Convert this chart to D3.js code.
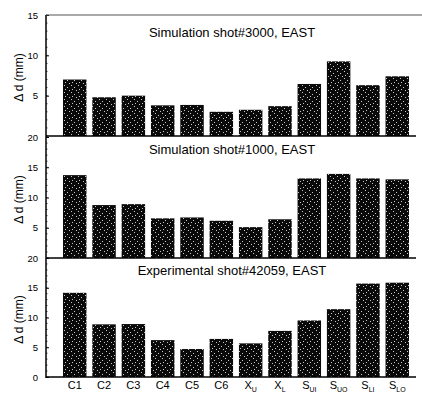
<!DOCTYPE html>
<html><head><meta charset="utf-8">
<script src="https://cdn.jsdelivr.net/npm/d3@7/dist/d3.min.js"></script>
<style>body{margin:0;background:#fff}svg{display:block}</style>
</head><body>
<svg id="c" width="422" height="394"></svg>
<script>
const categories = ["C1","C2","C3","C4","C5","C6","X_U","X_L","S_UI","S_UO","S_LI","S_LO"];
const sim3000 = [7.0,4.8,5.0,3.8,3.85,3.0,3.25,3.7,6.45,9.25,6.3,7.4];
const sim1000 = [13.7,8.75,8.9,6.55,6.7,6.15,5.1,6.4,13.15,13.9,13.15,13.0];
const exp42059 = [14.15,8.85,8.9,6.2,4.7,6.4,5.65,7.75,9.5,11.4,15.7,15.85];
const titles = ["Simulation shot#3000, EAST","Simulation shot#1000, EAST","Experimental shot#42059, EAST"];
const yMax = [15,20,20];
const yTicks = [[5,10,15],[5,10,15,20],[0,5,10,15,20]];

const svg = d3.select("#c");
const defs = svg.append("defs");
const pat = defs.append("pattern").attr("id","stip").attr("patternUnits","userSpaceOnUse")
  .attr("width",7).attr("height",7);
pat.append("rect").attr("width",7).attr("height",7).attr("fill","#0a0a0a");
[[1,1],[4,3],[2,5],[6,6]].forEach(([px,py])=>pat.append("rect").attr("x",px).attr("y",py).attr("width",1).attr("height",1).attr("fill","#c8c8c8"));

const x = d3.scaleBand().domain(categories).range([63,409]).paddingInner(0.2).paddingOuter(0);
const panels = [
  {data:sim3000, top:15, bottom:136},
  {data:sim1000, top:137, bottom:258},
  {data:exp42059, top:258, bottom:377}
];
const left = 46;
const font = "Liberation Sans, Arial, sans-serif";
panels.forEach((p,i)=>{
  const y = d3.scaleLinear().domain([0,yMax[i]]).range([p.bottom,p.top]);
  const g = svg.append("g");
  g.selectAll("rect.bar").data(p.data).join("rect").attr("class","bar")
    .attr("x",(d,j)=>x(categories[j])).attr("width",x.bandwidth())
    .attr("y",d=>y(d)).attr("height",d=>y(0)-y(d)).attr("fill","url(#stip)");
  const ax = g.append("g").attr("transform",`translate(${left},0)`)
    .call(d3.axisLeft(y).tickValues(yTicks[i]).tickSize(-3).tickPadding(8).tickFormat(d3.format("d")));
  ax.select(".domain").remove();
  ax.selectAll("line").attr("stroke","#000");
  ax.selectAll("text").attr("font-family",font).attr("font-size",9.5).attr("fill","#000");
  g.selectAll("line.minor").data(d3.range(0,yMax[i]+0.01,1)).join("line").attr("class","minor")
    .attr("x1",left).attr("x2",left+1.5).attr("y1",d=>y(d)).attr("y2",d=>y(d)).attr("stroke","#000").attr("stroke-width",0.7);
  g.append("line").attr("x1",left).attr("x2",416).attr("y1",y(0)).attr("y2",y(0)).attr("stroke","#000").attr("stroke-width",1.5);
  g.append("text").attr("x",232).attr("y",p.top+(i===0?22:17)).attr("text-anchor","middle")
    .attr("font-family",font).attr("font-size",13).text(titles[i]);
  g.append("text").attr("transform",`translate(23,${(p.top+p.bottom)/2+2}) rotate(-90)`).attr("text-anchor","middle")
    .attr("font-family",font).attr("font-size",12).text("Δ d (mm)");
});
svg.append("line").attr("x1",left).attr("x2",left).attr("y1",15).attr("y2",378).attr("stroke","#000").attr("stroke-width",1.5);
svg.append("line").attr("x1",left).attr("x2",422).attr("y1",15).attr("y2",15).attr("stroke","#555").attr("stroke-width",1.2);
const xl = svg.append("g");
categories.forEach(c=>{
  const parts = c.split("_");
  const t = xl.append("text").attr("x",x(c)+x.bandwidth()/2).attr("y",389).attr("text-anchor","middle")
    .attr("font-family",font).attr("font-size",11);
  t.append("tspan").text(parts[0]);
  if(parts[1]) t.append("tspan").attr("dy",2.5).attr("font-size",7).text(parts[1]);
});
</script>
</body></html>
